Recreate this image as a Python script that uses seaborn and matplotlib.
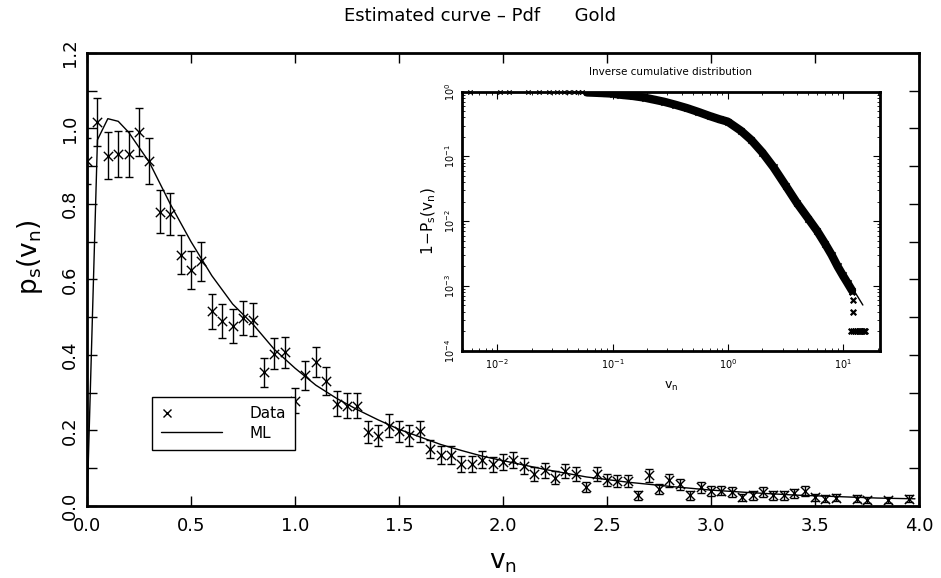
import numpy as np
import pandas as pd
import matplotlib
matplotlib.use("Agg")
import matplotlib.pyplot as plt
import seaborn as sns
from matplotlib.lines import Line2D
from matplotlib.legend_handler import HandlerLine2D
from matplotlib.ticker import MultipleLocator, LogLocator, NullFormatter

# ---------------- data ----------------
v_data = [0.00, 0.05, 0.10, 0.15, 0.20, 0.25, 0.30, 0.35, 0.40, 0.45,
          0.50, 0.55, 0.60, 0.65, 0.70, 0.75, 0.80, 0.85, 0.90, 0.95,
          1.00, 1.05, 1.10, 1.15, 1.20, 1.25, 1.30, 1.35, 1.40, 1.45,
          1.50, 1.55, 1.60, 1.65, 1.70, 1.75, 1.80, 1.85, 1.90, 1.95,
          2.00, 2.05, 2.10, 2.15, 2.20, 2.25, 2.30, 2.35, 2.40, 2.45,
          2.50, 2.55, 2.60, 2.65, 2.70, 2.75, 2.80, 2.85, 2.90, 2.95,
          3.00, 3.05, 3.10, 3.15, 3.20, 3.25, 3.30, 3.35, 3.40, 3.45,
          3.50, 3.55, 3.60, 3.70, 3.75, 3.85, 3.95]
p_data = [0.915, 1.017, 0.928, 0.933, 0.933, 0.990, 0.915, 0.780, 0.774, 0.666,
          0.626, 0.648, 0.516, 0.491, 0.477, 0.497, 0.494, 0.354, 0.403, 0.407,
          0.279, 0.346, 0.381, 0.331, 0.271, 0.266, 0.265, 0.196, 0.186, 0.213,
          0.198, 0.187, 0.198, 0.151, 0.136, 0.136, 0.112, 0.112, 0.123, 0.110,
          0.116, 0.122, 0.107, 0.085, 0.094, 0.075, 0.092, 0.085, 0.050, 0.085,
          0.069, 0.065, 0.065, 0.028, 0.081, 0.045, 0.068, 0.057, 0.028, 0.049,
          0.039, 0.041, 0.037, 0.023, 0.028, 0.037, 0.028, 0.028, 0.034, 0.039,
          0.023, 0.019, 0.022, 0.019, 0.017, 0.017, 0.019]
p_err = [0.061, 0.063, 0.062, 0.061, 0.061, 0.064, 0.061, 0.057, 0.056, 0.052,
         0.050, 0.051, 0.046, 0.045, 0.044, 0.045, 0.045, 0.038, 0.041, 0.041,
         0.034, 0.038, 0.040, 0.037, 0.033, 0.033, 0.033, 0.028, 0.028, 0.030,
         0.028, 0.028, 0.028, 0.025, 0.024, 0.024, 0.021, 0.021, 0.022, 0.021,
         0.022, 0.022, 0.021, 0.019, 0.020, 0.018, 0.019, 0.019, 0.014, 0.019,
         0.017, 0.016, 0.016, 0.011, 0.018, 0.014, 0.017, 0.015, 0.011, 0.014,
         0.013, 0.013, 0.012, 0.010, 0.011, 0.012, 0.011, 0.011, 0.012, 0.013,
         0.010, 0.009, 0.009, 0.009, 0.008, 0.008, 0.009]

v_ml = [0.00, 0.05, 0.10, 0.15, 0.20, 0.30, 0.40, 0.50, 0.60, 0.70, 0.80, 0.90,
        1.00, 1.10, 1.20, 1.30, 1.40, 1.50, 1.60, 1.70, 1.80, 1.90, 2.00, 2.20,
        2.40, 2.60, 2.80, 3.00, 3.20, 3.40, 3.60, 3.80, 3.98]
p_ml = [0.000, 0.970, 1.026, 1.019, 0.990, 0.910, 0.800, 0.700, 0.610, 0.535, 0.480, 0.415,
        0.365, 0.320, 0.285, 0.255, 0.228, 0.203, 0.183, 0.163, 0.147, 0.132, 0.120, 0.097,
        0.077, 0.063, 0.052, 0.042, 0.035, 0.029, 0.025, 0.021, 0.019]

# inset: inverse cumulative distribution (band centre)
inv_v = [0.060, 0.080, 0.100, 0.116, 0.150, 0.190, 0.225, 0.280, 0.350, 0.440,
         0.550, 0.700, 0.850, 1.00, 1.30, 1.60, 2.00, 2.50, 3.20, 4.00,
         5.00, 6.00, 7.00, 8.00, 9.00, 10.0, 11.0, 12.0]
inv_p = [0.975, 0.955, 0.935, 0.900, 0.860, 0.810, 0.760, 0.700, 0.630, 0.560,
         0.490, 0.420, 0.375, 0.345, 0.250, 0.180, 0.115, 0.068, 0.035, 0.019,
         0.0110, 0.0070, 0.0045, 0.0030, 0.0020, 0.00145, 0.00110, 0.00085]
top_v = [0.0058, 0.0106, 0.0125, 0.0183, 0.0230, 0.0280, 0.0330, 0.0380,
         0.0420, 0.0460, 0.0500, 0.0540]
top_p = [0.995, 0.995, 0.995, 0.994, 0.993, 0.992, 0.991, 0.990,
         0.989, 0.988, 0.986, 0.984]
tail_v = [11.9, 12.2, 12.3, 11.7, 12.2, 12.7, 13.2, 13.7, 14.2, 14.7, 15.2, 15.6]
tail_p = [0.0008, 0.0006, 0.0004, 0.0002, 0.0002, 0.0002, 0.0002, 0.0002,
          0.0002, 0.0002, 0.0002, 0.0002]
inv_ml_v = [8.0, 10.0, 12.0, 14.9]
inv_ml_p = [0.0030, 0.00156, 0.00095, 0.000507]

title_text = "Estimated curve \u2013 Pdf      Gold"

# ---------------- style ----------------
sns.set_style("ticks")
plt.rcParams["font.family"] = ["DejaVu Sans"]
plt.rcParams["mathtext.fontset"] = "dejavusans"
plt.rcParams["xtick.direction"] = "in"
plt.rcParams["ytick.direction"] = "in"
plt.rcParams["text.color"] = "black"
plt.rcParams["axes.labelcolor"] = "black"
plt.rcParams["xtick.color"] = "black"
plt.rcParams["ytick.color"] = "black"
plt.rcParams["axes.edgecolor"] = "black"


class LeftMarkerHandler(HandlerLine2D):
    def get_xdata(self, legend, xdescent, ydescent, width, height, fontsize):
        m = -xdescent + width * 0.1
        return np.array([m, m]), np.array([m])


fig = plt.figure(figsize=(9.41, 5.78), dpi=100)
fig.patch.set_facecolor("white")

# ---------------- main axes ----------------
ax = fig.add_axes([0.0925, 0.1246, 0.8842, 0.7837])
ax.set_facecolor("white")
ax.errorbar(v_data, p_data, yerr=p_err, fmt="none", ecolor="black",
            elinewidth=1.0, capsize=3, capthick=1.0, zorder=2)
sns.scatterplot(x=v_data, y=p_data, marker="x", color="black", s=45,
                linewidth=1.0, ax=ax, zorder=3)
sns.lineplot(x=v_ml, y=p_ml, color="black", linewidth=1.0, ax=ax,
             sort=False, estimator=None, zorder=4)

ax.set_xlim(0, 4.0)
ax.set_ylim(0, 1.2)
ax.xaxis.set_major_locator(MultipleLocator(0.5))
ax.yaxis.set_major_locator(MultipleLocator(0.2))
ax.yaxis.set_minor_locator(MultipleLocator(0.1))
ax.xaxis.set_major_formatter(plt.FormatStrFormatter("%.1f"))
ax.yaxis.set_major_formatter(plt.FormatStrFormatter("%.1f"))
ax.tick_params(axis="both", which="both", direction="in", top=True, right=True,
               length=7, width=1.0, labelsize=13, colors="black")
ax.tick_params(axis="x", pad=8)
ax.tick_params(axis="y", pad=6)
for lab in ax.get_yticklabels():
    lab.set_rotation(90)
    lab.set_verticalalignment("center")
ax.get_xticklabels()[0].set_horizontalalignment("left")
for sp in ax.spines.values():
    sp.set_linewidth(2.0)
    sp.set_color("black")

ax.set_xlabel(r"$\mathrm{v_n}$", fontsize=19, labelpad=10)
ax.set_ylabel(r"$\mathrm{p_s(v_n)}$", fontsize=19, labelpad=10)
ax.yaxis.set_label_coords(-0.05, 0.55)
fig.text(0.51, 0.973, title_text, ha="center", va="center", fontsize=13,
         color="black")

handles = [Line2D([], [], marker="x", ls="none", color="black", markersize=6,
                  markeredgewidth=1.0),
           Line2D([], [], color="black", lw=1.0)]
leg = ax.legend(handles, ["Data", "ML"], loc="upper left",
                bbox_to_anchor=(0.078, 0.241), borderaxespad=0,
                frameon=True, fancybox=False, edgecolor="black", framealpha=1,
                handlelength=4.0, handletextpad=1.8, borderpad=0.6,
                labelspacing=0.3, fontsize=11,
                handler_map={handles[0]: LeftMarkerHandler(numpoints=1)})
leg.get_frame().set_linewidth(1.0)

# ---------------- inset ----------------
ax2 = fig.add_axes([0.4906, 0.3933, 0.4446, 0.448])
ax2.set_facecolor("white")
ax2.set_xscale("log")
ax2.set_yscale("log")
sns.lineplot(x=inv_v, y=inv_p, color="black", linewidth=6.0, ax=ax2,
             sort=False, estimator=None)
sns.scatterplot(x=inv_v, y=inv_p, marker="x", color="black", s=20,
                linewidth=1.2, ax=ax2)
sns.scatterplot(x=top_v, y=top_p, marker="x", color="black", s=10,
                linewidth=0.8, ax=ax2, clip_on=False)
sns.scatterplot(x=tail_v, y=tail_p, marker="x", color="black", s=16,
                linewidth=1.6, ax=ax2)
sns.lineplot(x=inv_ml_v, y=inv_ml_p, color="black", linewidth=1.0, ax=ax2,
             sort=False, estimator=None)
ax2.set_xlim(0.0049, 21)
ax2.set_ylim(1e-4, 1)
ax2.xaxis.set_major_locator(LogLocator(base=10, numticks=10))
ax2.yaxis.set_major_locator(LogLocator(base=10, numticks=10))
ax2.xaxis.set_minor_locator(LogLocator(base=10, subs=np.arange(2, 10), numticks=20))
ax2.yaxis.set_minor_locator(LogLocator(base=10, subs=np.arange(2, 10), numticks=20))
ax2.xaxis.set_minor_formatter(NullFormatter())
ax2.yaxis.set_minor_formatter(NullFormatter())
ax2.tick_params(axis="both", which="major", direction="in", top=True, right=True,
                length=5, width=0.8, labelsize=7, colors="black")
ax2.tick_params(axis="both", which="minor", direction="in", top=True, right=True,
                length=2.5, width=0.6, colors="black")
ax2.tick_params(axis="x", pad=5)
ax2.tick_params(axis="y", pad=3)
for lab in ax2.get_yticklabels():
    lab.set_rotation(90)
    lab.set_verticalalignment("center")
for sp in ax2.spines.values():
    sp.set_linewidth(2.0)
    sp.set_color("black")
ax2.set_title("Inverse cumulative distribution", fontsize=7.5, pad=12,
              color="black")
ax2.set_ylabel(r"$\mathrm{1\!-\!P_s(v_n)}$", fontsize=11, labelpad=4)
ax2.set_xlabel(r"$\mathrm{v_n}$", fontsize=9, labelpad=6)

fig.savefig("out.png", dpi=100, facecolor="white")
